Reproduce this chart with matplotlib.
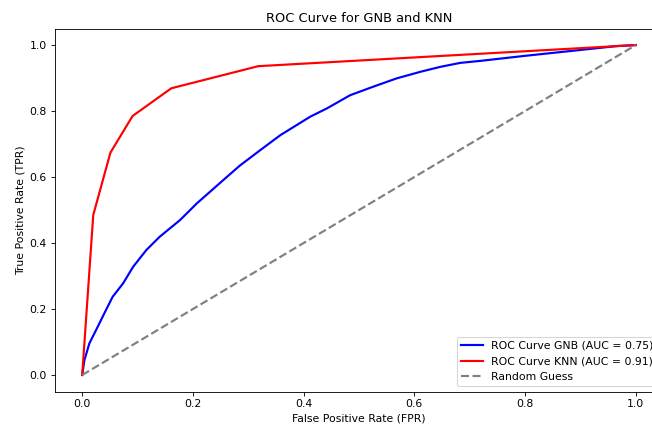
import numpy as np
import matplotlib
matplotlib.use("Agg")
import matplotlib.pyplot as plt

# ROC points
fpr_gnb = [0.0, 0.004, 0.013, 0.028, 0.040, 0.055, 0.074, 0.092, 0.116, 0.140, 0.177,
           0.207, 0.255, 0.285, 0.322, 0.358, 0.412, 0.442, 0.484, 0.526, 0.568,
           0.611, 0.647, 0.683, 0.719, 0.798, 0.888, 0.966, 1.0]
tpr_gnb = [0.0, 0.045, 0.096, 0.146, 0.187, 0.237, 0.278, 0.328, 0.379, 0.419, 0.470,
           0.520, 0.591, 0.635, 0.682, 0.727, 0.783, 0.808, 0.848, 0.874, 0.899,
           0.919, 0.934, 0.946, 0.952, 0.967, 0.983, 0.997, 1.0]

fpr_knn = [0.0, 0.020, 0.051, 0.091, 0.161, 0.318, 1.0]
tpr_knn = [0.0, 0.485, 0.674, 0.785, 0.869, 0.936, 1.0]

auc_gnb = 0.75
auc_knn = 0.91

# the reference looks like a scaled-down render, so draw at a low dpi
DPI = 78
fig = plt.figure(figsize=(652 / DPI, 425 / DPI), dpi=DPI)
ax = fig.add_axes([0.0836, 0.0788, 0.934, 0.854])

ax.plot(fpr_gnb, tpr_gnb, color='blue', lw=2, label=f'ROC Curve GNB (AUC = {auc_gnb:.2f})')
ax.plot(fpr_knn, tpr_knn, color='red', lw=2, label=f'ROC Curve KNN (AUC = {auc_knn:.2f})')
ax.plot([0, 1], [0, 1], color='gray', lw=2, linestyle='--', label='Random Guess')

ax.set_xlabel('False Positive Rate (FPR)')
ax.set_ylabel('True Positive Rate (TPR)')
ax.set_title('ROC Curve for GNB and KNN')
ax.legend(loc='lower right')

fig.savefig('out.png', dpi=DPI)
